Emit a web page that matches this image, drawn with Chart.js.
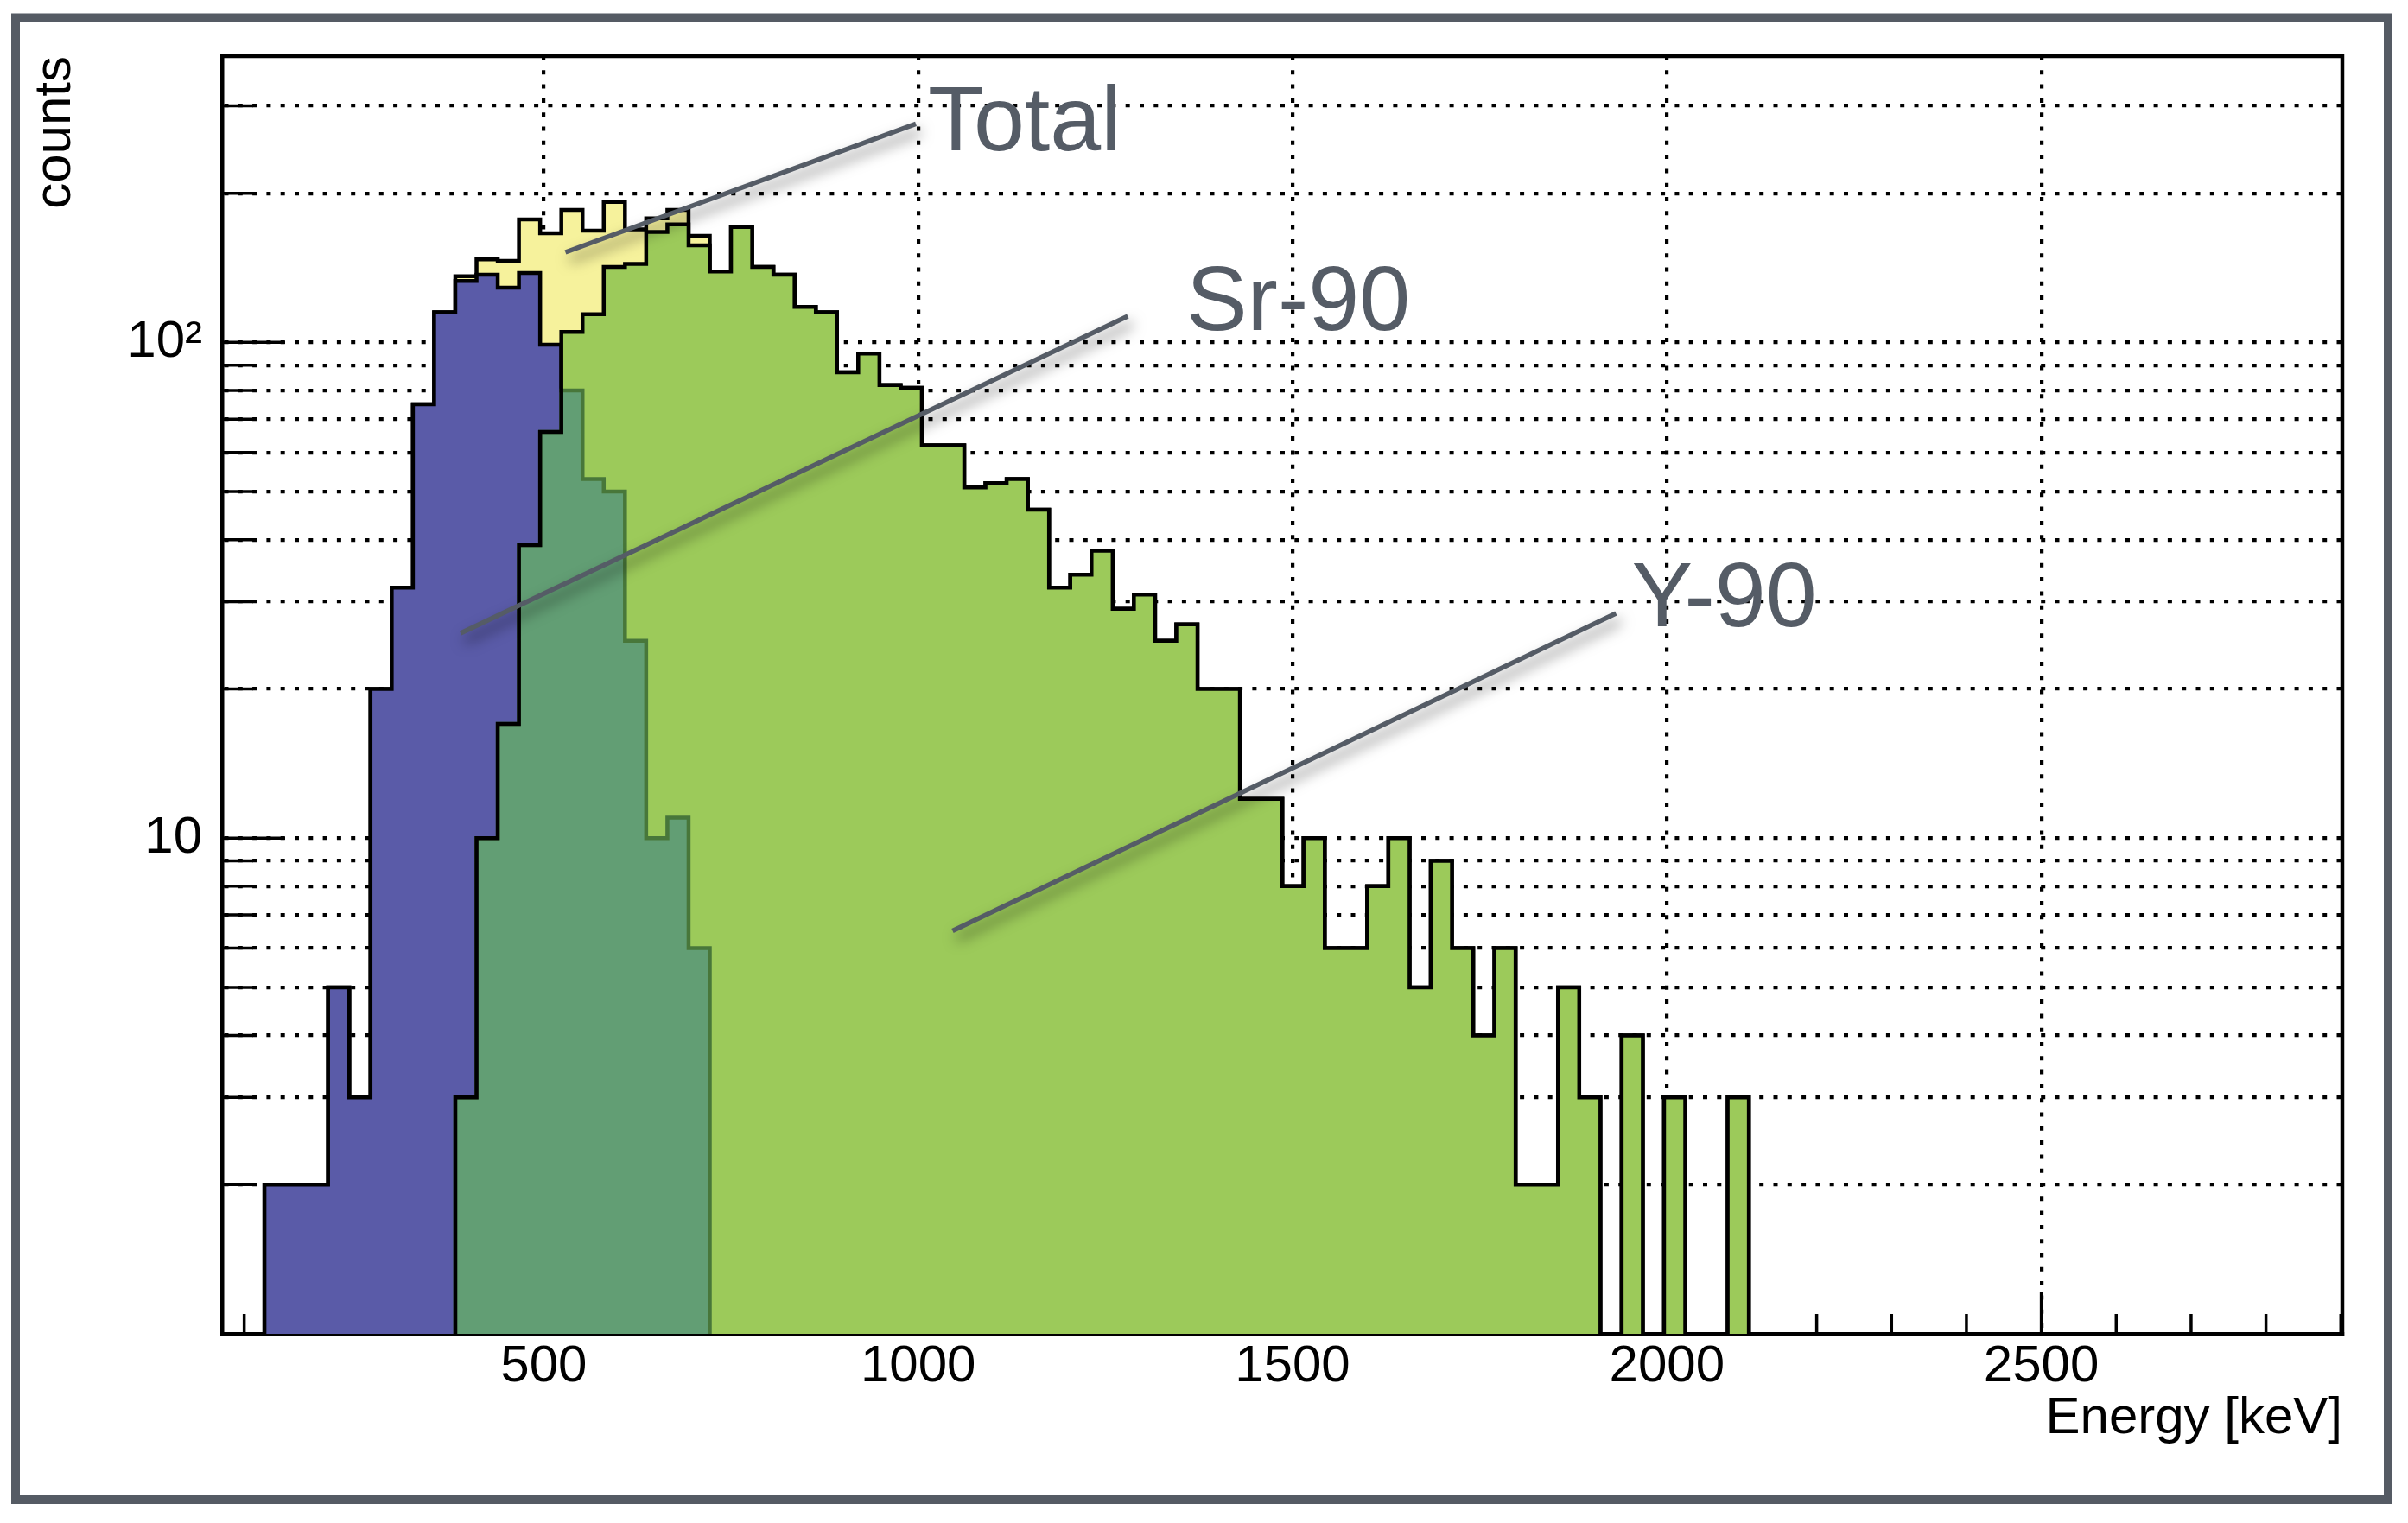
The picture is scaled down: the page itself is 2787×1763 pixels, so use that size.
<!DOCTYPE html>
<html>
<head>
<meta charset="utf-8">
<script src="https://cdn.jsdelivr.net/npm/chart.js@4"></script>
<style>
  html, body { margin: 0; padding: 0; background: #fff; }
  canvas { display: block; }
</style>
</head>
<body>
<canvas id="spectrum" width="2787" height="1763"></canvas>
<script>
(function () {
  // histogram binning (keV)
  const binLow = 70.4;
  const binWidth = 28.32;
  const xMin = 70.4;
  const xMax = 2902;
  const yMin = 1;
  const yMax = 378;

  // counts per bin, starting at bin 0
  const srCounts = [0, 0, 2, 2, 2, 5, 3, 20, 32, 75, 115, 133, 137, 129, 138, 99, 80, 53, 50, 25, 10, 11, 6];
  const y90Counts = [
    0, 0, 0, 0, 0, 0, 0, 0, 0, 0, 0,
    3, 10, 17, 39, 66, 105, 114, 142, 144, 167, 173, 157,
    139, 171, 142, 137, 118, 115, 87, 95, 82, 81,
    62, 62, 51, 52, 53, 46, 32, 34, 38, 29,
    31, 25, 27, 20, 20, 12, 12, 8, 10, 6,
    6, 8, 10, 5, 9, 6, 4, 6, 2, 2,
    5, 3, 0, 4, 0, 3, 0, 0, 3,
  ];
  const totalCounts = [
    0, 0, 2, 2, 2, 5, 3, 20, 32, 75, 115,
    136, 147, 146, 177, 166, 185, 168, 192, 169, 178, 185, 164,
    139, 171, 142, 137, 118, 115, 87, 95, 82, 81,
    62, 62, 51, 52, 53, 46, 32, 34, 38, 29,
    31, 25, 27, 20, 20, 12, 12, 8, 10, 6,
    6, 8, 10, 5, 9, 6, 4, 6, 2, 2,
    5, 3, 0, 4, 0, 3, 0, 0, 3,
  ];

  const xLabelTicks = [500, 1000, 1500, 2000, 2500];
  const yGridTicks = [1, 2, 3, 4, 5, 6, 7, 8, 9, 10, 20, 30, 40, 50, 60, 70, 80, 90, 100, 200, 300];
  const yLabelTicks = [10, 100];
  const yLabelText = ['10', '10\u00b2'];

  const labels = [
    { text: 'Total', at: [1013, 244], from: [529, 152], to: [997, 276] },
    { text: 'Sr-90', at: [1358, 106], from: [389, 25.9], to: [1280, 113] },
    { text: 'Y-90', at: [1953, 26.7], from: [1046, 6.5], to: [1932, 28.4] },
  ];

  const fontFamily = "'Liberation Sans', Arial, Helvetica, sans-serif";
  const countFloor = 0.5; // empty bins drawn below the axis

  function binEdge(i) {
    return binLow + i * binWidth;
  }

  function stepPoints(counts) {
    const pts = [{ x: binEdge(0), y: countFloor }];
    counts.forEach((c, i) => {
      pts.push({ x: binEdge(i + 1), y: c > 0 ? c : countFloor });
    });
    pts.push({ x: binEdge(counts.length), y: countFloor });
    return pts;
  }

  // region shared by Sr-90 and Y-90
  const overlapCounts = y90Counts.map((c, i) => Math.min(c, srCounts[i] || 0));

  const histo = (label, counts, fill, border, width, order) => ({
    label: label,
    data: stepPoints(counts),
    backgroundColor: fill || 'rgba(0,0,0,0)',
    borderColor: border,
    borderWidth: width,
    fill: fill ? 'start' : false,
    stepped: 'after',
    pointRadius: 0,
    borderJoinStyle: 'miter',
    order: order,
  });

  const frameDecor = {
    id: 'frameDecor',
    beforeDatasetsDraw(chart) {
      const { ctx, chartArea: a } = chart;
      const x = chart.scales.x;
      const y = chart.scales.y;
      ctx.save();
      ctx.strokeStyle = '#000';
      ctx.lineWidth = 3.5;
      ctx.beginPath();
      for (let v = 100; v < xMax; v += 100) {
        if (v < xMin) continue;
        const px = x.getPixelForValue(v);
        const len = v % 500 === 0 ? 48 : 23;
        ctx.moveTo(px, a.bottom);
        ctx.lineTo(px, a.bottom - len);
      }
      yGridTicks.forEach((v) => {
        if (v <= yMin) return;
        const py = y.getPixelForValue(v);
        const len = yLabelTicks.includes(v) ? 73 : 36;
        ctx.moveTo(a.left, py);
        ctx.lineTo(a.left + len, py);
      });
      ctx.stroke();
      ctx.restore();
    },
    afterDatasetsDraw(chart) {
      const { ctx, chartArea: a } = chart;
      const x = chart.scales.x;
      const y = chart.scales.y;
      ctx.save();
      ctx.strokeStyle = '#000';
      ctx.lineWidth = 4.5;
      ctx.beginPath();
      ctx.moveTo(a.left - 2, a.top);
      ctx.lineTo(a.right, a.top);
      ctx.lineTo(a.right, a.bottom + 2);
      ctx.stroke();

      // leader lines with a soft shadow
      labels.forEach((l) => {
        ctx.save();
        ctx.strokeStyle = '#555c66';
        ctx.lineWidth = 5.5;
        ctx.shadowColor = 'rgba(0,0,0,0.55)';
        ctx.shadowBlur = 16;
        ctx.shadowOffsetX = 5;
        ctx.shadowOffsetY = 9;
        ctx.beginPath();
        ctx.moveTo(x.getPixelForValue(l.from[0]), y.getPixelForValue(l.from[1]));
        ctx.lineTo(x.getPixelForValue(l.to[0]), y.getPixelForValue(l.to[1]));
        ctx.stroke();
        ctx.restore();
      });
      ctx.fillStyle = '#555c66';
      ctx.font = '106px ' + fontFamily;
      ctx.textAlign = 'left';
      ctx.textBaseline = 'alphabetic';
      labels.forEach((l) => {
        ctx.fillText(l.text, x.getPixelForValue(l.at[0]), y.getPixelForValue(l.at[1]));
      });
      ctx.restore();
    },
    afterDraw(chart) {
      const ctx = chart.ctx;
      ctx.save();
      ctx.strokeStyle = '#555b64';
      ctx.lineWidth = 10;
      ctx.strokeRect(18, 20.5, 2746, 1715.5);
      ctx.restore();
    },
  };

  const tickFont = { family: fontFamily, size: 60, lineHeight: 1.2 };

  const config = {
    type: 'line',
    data: {
      datasets: [
        histo('Total', totalCounts, '#f6f29c', '#000', 4.5, 5),
        histo('Sr-90', srCounts, '#5a5ba8', '#000', 4.5, 4),
        histo('Y-90', y90Counts, '#9cca5a', 'rgba(0,0,0,0)', 0, 3),
        histo('overlap', overlapCounts, '#629e74', '#48773a', 4.5, 2),
        histo('Y-90 outline', y90Counts, null, '#000', 4.5, 1),
      ],
    },
    options: {
      responsive: false,
      animation: false,
      devicePixelRatio: 1,
      events: [],
      layout: { padding: { top: 65, right: 76, left: 0, bottom: 0 } },
      plugins: {
        legend: { display: false },
        tooltip: { enabled: false },
      },
      scales: {
        x: {
          type: 'linear',
          min: xMin,
          max: xMax,
          afterBuildTicks: (axis) => {
            axis.ticks = xLabelTicks.map((v) => ({ value: v }));
          },
          afterFit: (scale) => {
            scale.height = 219;
          },
          grid: { color: '#000', lineWidth: 4.2, drawTicks: false },
          border: { color: '#000', width: 4.5, dash: [5, 11.3] },
          ticks: {
            autoSkip: false,
            maxRotation: 0,
            padding: 2,
            color: '#000',
            font: tickFont,
            callback: (v) => String(v),
          },
          title: {
            display: true,
            text: 'Energy [keV]',
            align: 'end',
            color: '#000',
            font: tickFont,
            padding: { top: 0, bottom: 85 },
          },
        },
        y: {
          type: 'logarithmic',
          min: yMin,
          max: yMax,
          afterBuildTicks: (axis) => {
            axis.ticks = yGridTicks.map((v) => ({ value: v }));
          },
          afterFit: (scale) => {
            scale.width = 257;
          },
          grid: { color: '#000', lineWidth: 4.2, drawTicks: false },
          border: { color: '#000', width: 4.5, dash: [5, 11.3] },
          ticks: {
            autoSkip: false,
            padding: 23,
            color: '#000',
            font: tickFont,
            callback: (v) => {
              const k = yLabelTicks.indexOf(v);
              return k >= 0 ? yLabelText[k] : '';
            },
          },
          title: {
            display: true,
            text: 'counts',
            align: 'end',
            color: '#000',
            font: tickFont,
            padding: { top: 28, bottom: 0 },
          },
        },
      },
    },
    plugins: [frameDecor],
  };

  new Chart(document.getElementById('spectrum'), config);
})();
</script>
</body>
</html>
